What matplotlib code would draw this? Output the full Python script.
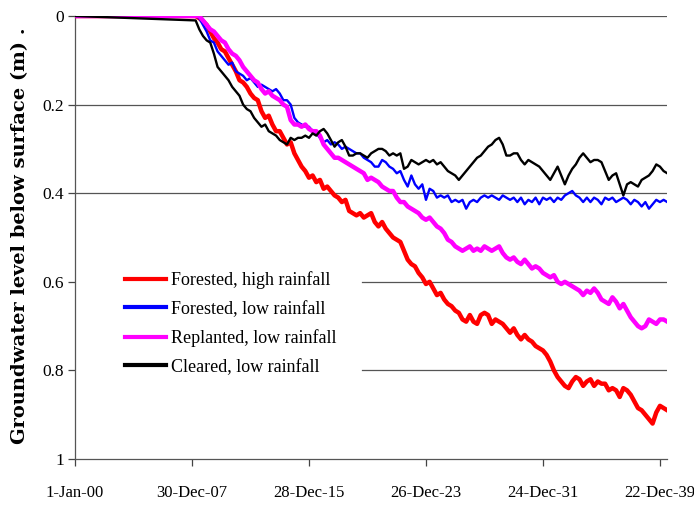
import matplotlib
matplotlib.use("Agg")
import matplotlib.pyplot as plt
import pandas as pd

# ---------------- data ----------------
start_date = "2000-01-01"
sample_start = "2008-04-01"
n_samples = 130

forested_high = [
    0.0, 0.005, 0.012, 0.02, 0.035, 0.05, 0.06, 0.075, 0.08, 0.095,
    0.11, 0.125, 0.145, 0.15, 0.16, 0.175, 0.185, 0.19, 0.215, 0.23,
    0.225, 0.245, 0.26, 0.26, 0.275, 0.29, 0.285, 0.31, 0.325, 0.34,
    0.35, 0.365, 0.36, 0.375, 0.37, 0.39, 0.385, 0.395, 0.405, 0.41,
    0.42, 0.415, 0.44, 0.445, 0.45, 0.445, 0.455, 0.45, 0.445, 0.465,
    0.475, 0.465, 0.48, 0.49, 0.5, 0.505, 0.51, 0.53, 0.55, 0.56,
    0.565, 0.58, 0.59, 0.605, 0.6, 0.615, 0.63, 0.625, 0.64, 0.65,
    0.655, 0.665, 0.67, 0.685, 0.69, 0.675, 0.69, 0.695, 0.675, 0.67,
    0.675, 0.695, 0.685, 0.69, 0.695, 0.705, 0.715, 0.705, 0.72, 0.73,
    0.72, 0.73, 0.735, 0.745, 0.75, 0.755, 0.765, 0.78, 0.8, 0.815,
    0.825, 0.835, 0.84, 0.825, 0.815, 0.82, 0.835, 0.825, 0.82, 0.835,
    0.825, 0.83, 0.83, 0.845, 0.84, 0.845, 0.86, 0.84, 0.845, 0.855,
    0.87, 0.885, 0.89, 0.9, 0.91, 0.92, 0.895, 0.88, 0.885, 0.89,
]

forested_low = [
    0.0, 0.005, 0.02, 0.035, 0.055, 0.06, 0.08, 0.09, 0.1, 0.11,
    0.105, 0.125, 0.13, 0.135, 0.145, 0.14, 0.15, 0.16, 0.155, 0.16,
    0.165, 0.17, 0.165, 0.175, 0.19, 0.19, 0.2, 0.23, 0.24, 0.245,
    0.25, 0.25, 0.26, 0.265, 0.275, 0.285, 0.28, 0.29, 0.285, 0.29,
    0.3, 0.295, 0.3, 0.305, 0.31, 0.31, 0.32, 0.325, 0.33, 0.34,
    0.34, 0.325, 0.33, 0.34, 0.345, 0.355, 0.35, 0.37, 0.385, 0.36,
    0.38, 0.39, 0.38, 0.415, 0.39, 0.395, 0.41, 0.405, 0.41, 0.405,
    0.42, 0.415, 0.42, 0.415, 0.435, 0.42, 0.415, 0.42, 0.41, 0.405,
    0.41, 0.405, 0.41, 0.415, 0.405, 0.41, 0.415, 0.41, 0.42, 0.41,
    0.425, 0.415, 0.42, 0.41, 0.425, 0.41, 0.415, 0.41, 0.42, 0.41,
    0.415, 0.405, 0.4, 0.395, 0.405, 0.41, 0.42, 0.41, 0.42, 0.41,
    0.415, 0.425, 0.41, 0.415, 0.41, 0.42, 0.415, 0.41, 0.415, 0.425,
    0.415, 0.42, 0.43, 0.42, 0.435, 0.425, 0.415, 0.42, 0.415, 0.42,
]

replanted_low = [
    0.0, 0.0, 0.01, 0.02, 0.03, 0.035, 0.045, 0.055, 0.06, 0.075,
    0.085, 0.09, 0.1, 0.115, 0.125, 0.135, 0.145, 0.15, 0.165, 0.175,
    0.17, 0.18, 0.185, 0.19, 0.2, 0.205, 0.235, 0.245, 0.245, 0.25,
    0.245, 0.255, 0.26, 0.26, 0.27, 0.29, 0.3, 0.31, 0.32, 0.32,
    0.325, 0.33, 0.335, 0.34, 0.345, 0.35, 0.355, 0.37, 0.365, 0.37,
    0.375, 0.385, 0.39, 0.395, 0.395, 0.41, 0.42, 0.42, 0.43, 0.435,
    0.44, 0.445, 0.455, 0.46, 0.455, 0.465, 0.475, 0.48, 0.49, 0.505,
    0.51, 0.52, 0.525, 0.53, 0.525, 0.52, 0.53, 0.525, 0.53, 0.52,
    0.525, 0.53, 0.525, 0.52, 0.535, 0.545, 0.55, 0.545, 0.555, 0.56,
    0.55, 0.56, 0.57, 0.565, 0.57, 0.58, 0.585, 0.59, 0.585, 0.6,
    0.605, 0.6, 0.605, 0.61, 0.615, 0.62, 0.63, 0.62, 0.625, 0.615,
    0.625, 0.64, 0.645, 0.65, 0.635, 0.645, 0.66, 0.65, 0.665, 0.68,
    0.69, 0.7, 0.705, 0.7, 0.685, 0.69, 0.695, 0.685, 0.685, 0.69,
]

cleared_low = [
    0.01, 0.03, 0.045, 0.055, 0.06, 0.085, 0.115, 0.125, 0.135, 0.145,
    0.16, 0.17, 0.18, 0.2, 0.21, 0.215, 0.23, 0.24, 0.25, 0.245,
    0.26, 0.265, 0.27, 0.28, 0.285, 0.29, 0.275, 0.28, 0.275, 0.275,
    0.27, 0.275, 0.265, 0.27, 0.26, 0.255, 0.265, 0.28, 0.295, 0.285,
    0.28, 0.295, 0.315, 0.315, 0.31, 0.31, 0.315, 0.32, 0.31, 0.305,
    0.3, 0.3, 0.305, 0.315, 0.31, 0.315, 0.31, 0.345, 0.34, 0.325,
    0.33, 0.335, 0.33, 0.325, 0.33, 0.325, 0.335, 0.33, 0.34, 0.35,
    0.355, 0.36, 0.37, 0.36, 0.35, 0.34, 0.33, 0.32, 0.315, 0.305,
    0.295, 0.29, 0.28, 0.275, 0.29, 0.315, 0.315, 0.31, 0.31, 0.325,
    0.335, 0.325, 0.33, 0.335, 0.34, 0.35, 0.36, 0.37, 0.355, 0.34,
    0.36, 0.38, 0.36, 0.345, 0.335, 0.32, 0.31, 0.32, 0.33, 0.325,
    0.325, 0.33, 0.35, 0.37, 0.36, 0.355, 0.38, 0.405, 0.38, 0.375,
    0.38, 0.385, 0.37, 0.365, 0.36, 0.35, 0.335, 0.34, 0.35, 0.355,
]

series_labels = ["Forested, high rainfall", "Forested, low rainfall",
                 "Replanted, low rainfall", "Cleared, low rainfall"]
series_colors = ["#ff0000", "#0000ff", "#ff00ff", "#000000"]
series_widths = [3.2, 1.7, 3.2, 1.7]

x_tick_dates = ["2000-01-01", "2007-12-30", "2015-12-28",
                "2023-12-26", "2031-12-24", "2039-12-22"]
x_tick_labels = ["1-Jan-00", "30-Dec-07", "28-Dec-15",
                 "26-Dec-23", "24-Dec-31", "22-Dec-39"]
y_ticks = [0, 0.2, 0.4, 0.6, 0.8, 1]
y_tick_labels = ["0", "0.2", "0.4", "0.6", "0.8", "1"]

# --------------- plot -----------------
dates = pd.DatetimeIndex([pd.Timestamp(start_date)]).append(
    pd.date_range(sample_start, periods=n_samples, freq="QS"))

serif = ["Liberation Serif", "DejaVu Serif"]
plt.rcParams["font.family"] = serif

fig = plt.figure(figsize=(6.94, 5.07), dpi=100)
ax = fig.add_axes([75 / 694, 1 - 459 / 507, 592 / 694, 443 / 507])

all_series = [forested_high, forested_low, replanted_low, cleared_low]
for vals, lab, col, lw in zip(all_series, series_labels, series_colors, series_widths):
    ax.plot(dates, [0.0] + list(vals), color=col, lw=lw, label=lab,
            solid_joinstyle="round", zorder=3)

ax.set_ylim(1, 0)
ax.set_xlim(pd.Timestamp("2000-01-01"), pd.Timestamp("2040-06-25"))

# gridlines (hidden behind the legend area for 0.6 and 0.8)
for yv in y_ticks[:-1]:
    xmin = 0.0 if yv < 0.5 else (362 - 75) / 592
    ax.axhline(yv, xmin=xmin, xmax=1, color="#555555", lw=0.9, zorder=1)

ax.set_yticks(y_ticks)
ax.set_yticklabels(y_tick_labels, fontsize=12.5)
ax.set_xticks([pd.Timestamp(d) for d in x_tick_dates])
ax.set_xticklabels(x_tick_labels, fontsize=12)
ax.tick_params(axis="both", direction="out", length=5, width=0.9, color="#444444")
ax.tick_params(axis="x", pad=14)
ax.tick_params(axis="y", pad=3)

for s in ["top", "right"]:
    ax.spines[s].set_visible(False)
for s in ["left", "bottom"]:
    ax.spines[s].set_color("#555555")
    ax.spines[s].set_linewidth(0.9)

ax.set_ylabel("Groundwater level below surface (m) .", fontsize=14,
              fontweight="bold", family=["DejaVu Serif"])
ax.yaxis.set_label_coords(-0.078, 0.505)

leg = ax.legend(loc="upper left", bbox_to_anchor=(0.072, 0.44),
                frameon=False, fontsize=13, handlelength=2.3,
                handletextpad=0.25, labelspacing=0.64, borderaxespad=0)
for h in leg.get_lines():
    h.set_linewidth(3.0)

fig.savefig("out.png", dpi=100)
